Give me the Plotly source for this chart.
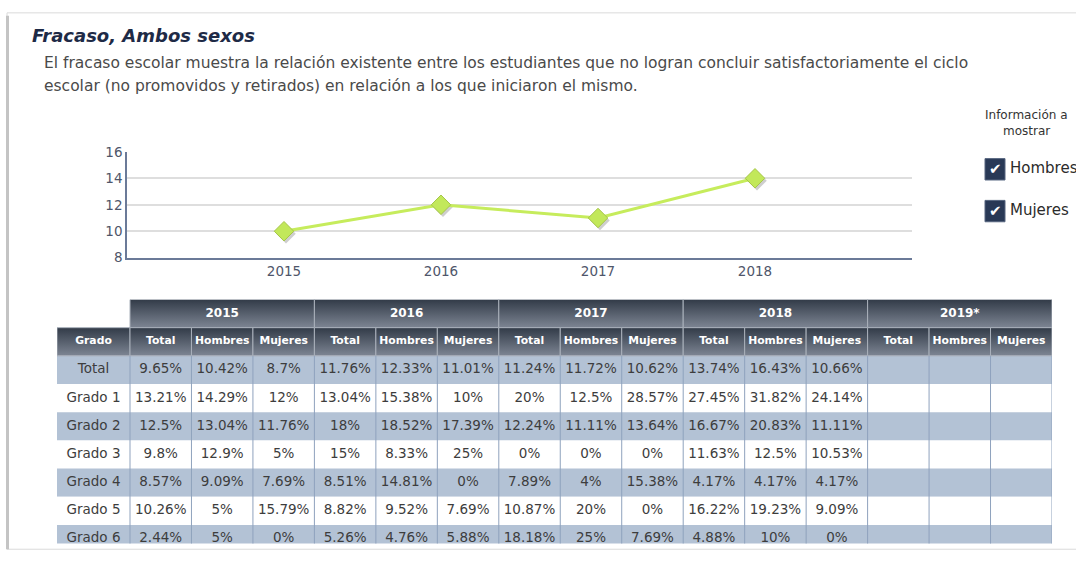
import plotly.graph_objects as go

# ---------------- data ----------------
chart_years = ["2015", "2016", "2017", "2018"]
chart_values = [10, 12, 11, 14]

table_years = ["2015", "2016", "2017", "2018", "2019*"]
sub_cols = ["Total", "Hombres", "Mujeres"]
grados = ["Total", "Grado 1", "Grado 2", "Grado 3", "Grado 4", "Grado 5", "Grado 6"]

# rows: Total, Grado 1..6 ; columns: Total, Hombres, Mujeres (percent)
v2015 = [[9.65, 10.42, 8.7], [13.21, 14.29, 12], [12.5, 13.04, 11.76], [9.8, 12.9, 5],
         [8.57, 9.09, 7.69], [10.26, 5, 15.79], [2.44, 5, 0]]
v2016 = [[11.76, 12.33, 11.01], [13.04, 15.38, 10], [18, 18.52, 17.39], [15, 8.33, 25],
         [8.51, 14.81, 0], [8.82, 9.52, 7.69], [5.26, 4.76, 5.88]]
v2017 = [[11.24, 11.72, 10.62], [20, 12.5, 28.57], [12.24, 11.11, 13.64], [0, 0, 0],
         [7.89, 4, 15.38], [10.87, 20, 0], [18.18, 25, 7.69]]
v2018 = [[13.74, 16.43, 10.66], [27.45, 31.82, 24.14], [16.67, 20.83, 11.11], [11.63, 12.5, 10.53],
         [4.17, 4.17, 4.17], [16.22, 19.23, 9.09], [4.88, 10, 0]]
v2019 = [[None, None, None] for _ in range(7)]
year_values = [v2015, v2016, v2017, v2018, v2019]

legend_items = ["Hombres", "Mujeres"]

# ---------------- helpers ----------------
W_PX, H_PX = 1076, 565
FONT = "DejaVu Sans"


def px(x):
    return x / W_PX


def py(y):
    return 1 - y / H_PX


fig = go.Figure()

# ---------------- line chart ----------------
xpos = list(range(len(chart_years)))
# soft drop shadow of the markers (same data on a hidden axis pair shifted by 2px, drawn first)
fig.add_trace(go.Scatter(
    x=xpos, y=chart_values, mode="markers",
    marker=dict(symbol="diamond", size=15, color="rgba(80,80,80,0.28)", line=dict(width=0)),
    hoverinfo="skip", showlegend=False, xaxis="x", yaxis="y"))
fig.add_trace(go.Scatter(
    x=xpos, y=chart_values, mode="lines+markers",
    line=dict(color="#c6ec5c", width=3),
    marker=dict(symbol="diamond", size=15, color="#c2e85a",
                line=dict(color="#a6c64a", width=1)),
    hoverinfo="skip", showlegend=False, xaxis="x3", yaxis="y3"))

# ---------------- table ----------------
GW = 73 / 61.47          # width of the "Grado" column in column units
NCOL = len(table_years) * len(sub_cols)
TW = GW + NCOL
VIS_ROWS = 8.655
HEAD_LIGHT, HEAD_DARK = "#7d8593", "#323b48"
grad = dict(type="vertical", colorscale=[[0, HEAD_LIGHT], [1, HEAD_DARK]])

shapes = []
# data rows background
for i, g in enumerate(grados):
    r = 2 + i
    shapes.append(dict(type="rect", xref="x2", yref="y2", x0=0, x1=TW, y0=r, y1=r + 1,
                       fillcolor="#b3c2d5" if i % 2 == 0 else "#ffffff",
                       line=dict(width=0), layer="below"))
# vertical borders in the body
for c in range(NCOL + 1):
    xv = GW + c
    shapes.append(dict(type="line", xref="x2", yref="y2", x0=xv, x1=xv, y0=2, y1=VIS_ROWS + 1,
                       line=dict(color="#8fa2bd", width=1), layer="above"))


def header_cell(x0, x1, y0, y1):
    fig.add_trace(go.Scatter(
        x=[x0, x1, x1, x0, x0], y=[y0, y0, y1, y1, y0], mode="lines", fill="toself",
        fillgradient=grad, line=dict(color="#a9b0ba", width=1),
        hoverinfo="skip", showlegend=False, xaxis="x2", yaxis="y2"))


# year header row
for k, yr in enumerate(table_years):
    header_cell(GW + 3 * k, GW + 3 * k + 3, 0, 1)
# sub header row
header_cell(0, GW, 1, 2)
for c in range(NCOL):
    header_cell(GW + c, GW + c + 1, 1, 2)

# header texts
fig.add_trace(go.Scatter(
    x=[GW + 3 * k + 1.5 for k in range(len(table_years))], y=[0.5] * len(table_years),
    text=[f"<b>{y}</b>" for y in table_years], mode="text",
    textfont=dict(family=FONT, size=12, color="#ffffff"),
    hoverinfo="skip", showlegend=False, xaxis="x2", yaxis="y2"))
fig.add_trace(go.Scatter(
    x=[GW / 2] + [GW + c + 0.5 for c in range(NCOL)], y=[1.5] * (NCOL + 1),
    text=["<b>Grado</b>"] + [f"<b>{sub_cols[c % 3]}</b>" for c in range(NCOL)], mode="text",
    textfont=dict(family=FONT, size=10.8, color="#ffffff"),
    hoverinfo="skip", showlegend=False, xaxis="x2", yaxis="y2"))

# body texts
bx, by, bt = [], [], []
for i, g in enumerate(grados):
    bx.append(GW / 2)
    by.append(2.5 + i)
    bt.append(g)
    for k, vals in enumerate(year_values):
        for j in range(3):
            v = vals[i][j]
            bx.append(GW + 3 * k + j + 0.5)
            by.append(2.5 + i)
            bt.append("" if v is None else f"{v:g}%")
fig.add_trace(go.Scatter(
    x=bx, y=by, text=bt, mode="text", cliponaxis=True,
    textfont=dict(family=FONT, size=13.5, color="#3d3d3d"),
    hoverinfo="skip", showlegend=False, xaxis="x2", yaxis="y2"))

# ---------------- decorations ----------------
# card frame
shapes.append(dict(type="rect", xref="paper", yref="paper", x0=px(7), x1=px(1080), y0=py(557), y1=py(5),
                   line=dict(color="#dadada", width=1), layer="below"))
shapes.append(dict(type="line", xref="paper", yref="paper", x0=px(7.5), x1=px(7.5), y0=py(557), y1=py(8),
                   line=dict(color="#c4c4c4", width=3), layer="below"))

annotations = [
    dict(text="<b><i>Fracaso, Ambos sexos</i></b>", x=px(30), y=py(28), xref="paper", yref="paper",
         xanchor="left", yanchor="middle", showarrow=False,
         font=dict(family=FONT, size=18, color="#1e2a46")),
    dict(text="El fracaso escolar muestra la relación existente entre los estudiantes que no logran concluir satisfactoriamente el ciclo",
         x=px(42), y=py(57), xref="paper", yref="paper", xanchor="left", yanchor="middle", showarrow=False,
         font=dict(family=FONT, size=15.5, color="#4a4a4a")),
    dict(text="escolar (no promovidos y retirados) en relación a los que iniciaron el mismo.",
         x=px(42), y=py(80), xref="paper", yref="paper", xanchor="left", yanchor="middle", showarrow=False,
         font=dict(family=FONT, size=15.5, color="#4a4a4a")),
    dict(text="Información a", x=px(1026), y=py(110), xref="paper", yref="paper", xanchor="center",
         yanchor="middle", showarrow=False, font=dict(family=FONT, size=12, color="#333333")),
    dict(text="mostrar", x=px(1026), y=py(127), xref="paper", yref="paper", xanchor="center",
         yanchor="middle", showarrow=False, font=dict(family=FONT, size=12, color="#333333")),
]

for n, item in enumerate(legend_items):
    cy = 166 + 43 * n
    shapes.append(dict(type="rect", xref="paper", yref="paper", x0=px(985), x1=px(1005),
                       y0=py(cy + 11), y1=py(cy - 11), fillcolor="#293956",
                       line=dict(color="#56657f", width=1), layer="above"))
    annotations.append(dict(text="✔", x=px(995), y=py(cy), xref="paper", yref="paper",
                            xanchor="center", yanchor="middle", showarrow=False,
                            font=dict(family=FONT, size=15, color="#ffffff")))
    annotations.append(dict(text=item, x=px(1008), y=py(cy - 1), xref="paper", yref="paper",
                            xanchor="left", yanchor="middle", showarrow=False,
                            font=dict(family=FONT, size=15, color="#2b2b2b")))

fig.update_layout(
    width=W_PX, height=H_PX, margin=dict(l=0, r=0, t=0, b=0),
    paper_bgcolor="#ffffff", plot_bgcolor="rgba(0,0,0,0)",
    showlegend=False,
    # hidden shadow axes
    xaxis=dict(domain=[px(129), px(914)], range=[-1, 4], visible=False, fixedrange=True),
    yaxis=dict(domain=[py(259.5), py(150.5)], range=[8, 16], visible=False, fixedrange=True),
    # visible chart axes
    xaxis3=dict(domain=[px(127), px(912)], range=[-1, 4], tickvals=xpos, ticktext=chart_years,
                anchor="y3", showgrid=False, zeroline=False, showline=True, linecolor="#6b7a98", linewidth=2,
                tickfont=dict(family=FONT, size=13.5, color="#4f566a"), ticks="", fixedrange=True),
    yaxis3=dict(domain=[py(257), py(148)], range=[8, 16], dtick=2, anchor="x3", showgrid=True,
                gridcolor="#dedede", gridwidth=1.5, zeroline=False, showline=True, linecolor="#6b7a98",
                linewidth=1.5, tickfont=dict(family=FONT, size=13.5, color="#4f566a"), ticks="",
                fixedrange=True),
    xaxis2=dict(domain=[px(57), px(1052)], range=[0, TW], visible=False, anchor="y2", fixedrange=True),
    yaxis2=dict(domain=[py(551), py(300)], range=[VIS_ROWS, 0], visible=False, anchor="x2", fixedrange=True),
    shapes=shapes, annotations=annotations,
)

fig.write_html("out.html", config={"displayModeBar": False},
               post_script="document.body.style.margin='0';document.body.style.overflow='hidden';")
